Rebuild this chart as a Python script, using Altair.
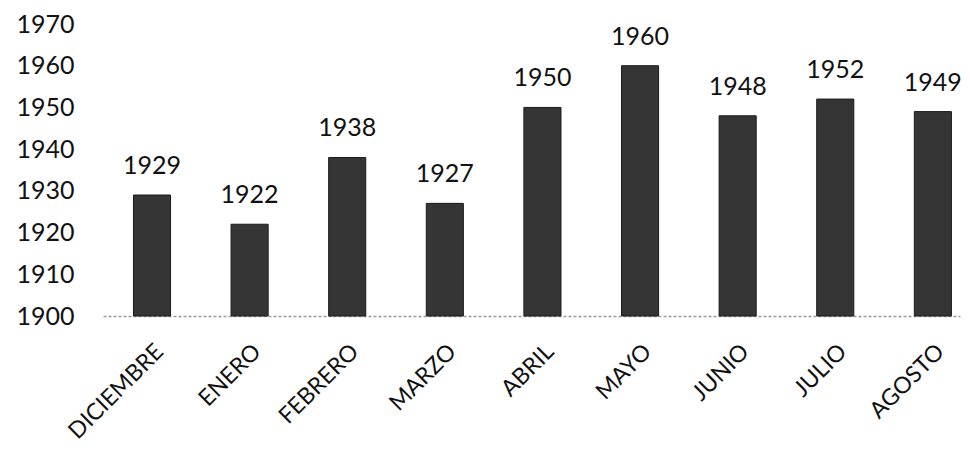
import altair as alt
import pandas as pd

months = ["DICIEMBRE", "ENERO", "FEBRERO", "MARZO", "ABRIL", "MAYO", "JUNIO", "JULIO", "AGOSTO"]
values = [1929, 1922, 1938, 1927, 1950, 1960, 1948, 1952, 1949]
y_ticks = [1900, 1910, 1920, 1930, 1940, 1950, 1960, 1970]
baseline_value = 1900

df = pd.DataFrame({"mes": months, "valor": values})

FONT = "Lato"

x_enc = alt.X("mes:N", sort=months, title=None,
              scale=alt.Scale(paddingInner=0.62, paddingOuter=0.2, align=0.78),
              axis=alt.Axis(labelAngle=-45, labelFontSize=23, labelFont=FONT,
                            labelColor="#111", labelPadding=24, ticks=False,
                            domainColor="#9a9a9a", domainDash=[3, 2], domainWidth=1.5))
y_enc = alt.Y("valor:Q", title=None,
              scale=alt.Scale(domain=[1900, 1970], nice=False, zero=False),
              axis=alt.Axis(values=y_ticks, format="d", labelFontSize=25, labelFont=FONT,
                            labelColor="#111", labelPadding=29, ticks=False, domain=False,
                            grid=False))

bars = alt.Chart(df).mark_bar(color="#353535", stroke="#1a1a1a", strokeWidth=1).encode(
    x=x_enc, y=y_enc, y2=alt.datum(baseline_value))
labels = alt.Chart(df).mark_text(baseline="bottom", dy=-16, fontSize=25, font=FONT,
                                 color="#111").encode(
    x=x_enc, y=y_enc, text=alt.Text("valor:Q", format="d"))

chart = (bars + labels).properties(
    width=857, height=292,
    autosize="none",
    padding={"left": 95, "top": 16, "right": 2, "bottom": 136},
).configure_view(stroke=None).configure_axis(labelOverlap=False)

chart.save("out.html", embed_options={"renderer": "svg", "actions": False})
